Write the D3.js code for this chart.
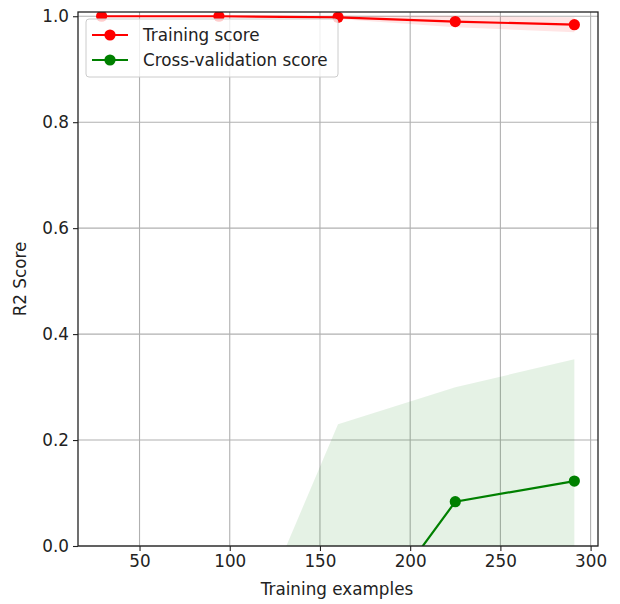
<!DOCTYPE html>
<html>
<head>
<meta charset="utf-8">
<script src="https://cdn.jsdelivr.net/npm/d3@7"></script>
<style>
  html, body { margin: 0; padding: 0; background: #fff; }
  svg { display: block; font-family: "DejaVu Sans", sans-serif; }
</style>
</head>
<body>
<svg id="chart" width="620" height="604"></svg>
<script>
// Learning curve: training sizes and per-size mean / std of R2 score
const trainSizes = [29, 94, 160, 225, 291];
const trainMean = [1.0, 1.0, 0.998, 0.990, 0.984];
const trainStd = [0.0, 0.0, 0.003, 0.011, 0.014];
const cvMean = [-3.0, -1.2, -0.218, 0.0836, 0.1226];
const cvStd = [2.0, 0.9, 0.448, 0.216, 0.230];
const xTicks = [50, 100, 150, 200, 250, 300];
const yTicks = [0.0, 0.2, 0.4, 0.6, 0.8, 1.0];
const seriesNames = ["Training score", "Cross-validation score"];
const seriesColors = ["#ff0000", "#008000"];

const svg = d3.select("#chart");
const plot = { left: 78, right: 598, top: 12, bottom: 546 };
const fontSize = 16.8;

const x = d3.scaleLinear().domain([15.9, 304.1]).range([plot.left, plot.right]);
const y = d3.scaleLinear().domain([0, 1.008]).range([plot.bottom, plot.top]);

svg.append("defs").append("clipPath").attr("id", "plotClip")
  .append("rect")
  .attr("x", plot.left).attr("y", plot.top)
  .attr("width", plot.right - plot.left).attr("height", plot.bottom - plot.top);

// grid
const grid = svg.append("g");
grid.selectAll("line.gx").data(xTicks).join("line")
  .attr("x1", d => x(d)).attr("x2", d => x(d))
  .attr("y1", plot.top).attr("y2", plot.bottom)
  .attr("stroke", "#b0b0b0").attr("stroke-width", 1.1);
grid.selectAll("line.gy").data(yTicks).join("line")
  .attr("y1", d => y(d)).attr("y2", d => y(d))
  .attr("x1", plot.left).attr("x2", plot.right)
  .attr("stroke", "#b0b0b0").attr("stroke-width", 1.1);

const series = [
  { mean: trainMean, std: trainStd, color: seriesColors[0] },
  { mean: cvMean, std: cvStd, color: seriesColors[1] }
];

const body = svg.append("g").attr("clip-path", "url(#plotClip)");

// std bands
series.forEach(s => {
  const pts = trainSizes.map((t, i) => ({ t, lo: s.mean[i] - s.std[i], hi: s.mean[i] + s.std[i] }));
  body.append("path")
    .datum(pts)
    .attr("d", d3.area().x(d => x(d.t)).y0(d => y(d.lo)).y1(d => y(d.hi)))
    .attr("fill", s.color).attr("fill-opacity", 0.1);
});

// mean lines with markers
series.forEach(s => {
  const pts = trainSizes.map((t, i) => ({ t, v: s.mean[i] }));
  body.append("path")
    .datum(pts)
    .attr("d", d3.line().x(d => x(d.t)).y(d => y(d.v)))
    .attr("fill", "none").attr("stroke", s.color).attr("stroke-width", 2.2);
  body.selectAll(null).data(pts).join("circle")
    .attr("cx", d => x(d.t)).attr("cy", d => y(d.v)).attr("r", 5.6)
    .attr("fill", s.color);
});

// axes
const xAxis = d3.axisBottom(x).tickValues(xTicks).tickFormat(d3.format("d")).tickSizeOuter(0).tickSize(5).tickPadding(4);
const yAxis = d3.axisLeft(y).tickValues(yTicks).tickFormat(d3.format(".1f")).tickSizeOuter(0).tickSize(5).tickPadding(4);

const gx = svg.append("g").attr("transform", `translate(0,${plot.bottom})`).call(xAxis);
const gy = svg.append("g").attr("transform", `translate(${plot.left},0)`).call(yAxis);
[gx, gy].forEach(g => {
  g.select(".domain").remove();
  g.selectAll("line").attr("stroke", "#222").attr("stroke-width", 1.1);
  g.selectAll("text").attr("font-size", fontSize).attr("fill", "#222").attr("font-family", "DejaVu Sans");
});

// frame
svg.append("rect")
  .attr("x", plot.left).attr("y", plot.top)
  .attr("width", plot.right - plot.left).attr("height", plot.bottom - plot.top)
  .attr("fill", "none").attr("stroke", "#222").attr("stroke-width", 1.3);

// axis titles
svg.append("text")
  .attr("x", 337).attr("y", 595)
  .attr("text-anchor", "middle").attr("font-size", fontSize).attr("fill", "#222")
  .text("Training examples");
svg.append("text")
  .attr("transform", `translate(26,${(plot.top + plot.bottom) / 2}) rotate(-90)`)
  .attr("text-anchor", "middle").attr("font-size", fontSize).attr("fill", "#222")
  .text("R2 Score");

// legend
const lg = svg.append("g").attr("transform", "translate(86,19)");
lg.append("rect")
  .attr("width", 252).attr("height", 58).attr("rx", 3)
  .attr("fill", "#fff").attr("fill-opacity", 0.8)
  .attr("stroke", "#cccccc").attr("stroke-width", 1);
seriesNames.forEach((name, i) => {
  const row = lg.append("g").attr("transform", `translate(0,${16 + i * 25})`);
  row.append("line").attr("x1", 6).attr("x2", 42)
    .attr("stroke", seriesColors[i]).attr("stroke-width", 2.2);
  row.append("circle").attr("cx", 24).attr("r", 5.6).attr("fill", seriesColors[i]);
  row.append("text").attr("x", 57).attr("dy", "0.35em")
    .attr("font-size", fontSize).attr("fill", "#222").text(name);
});
</script>
</body>
</html>
